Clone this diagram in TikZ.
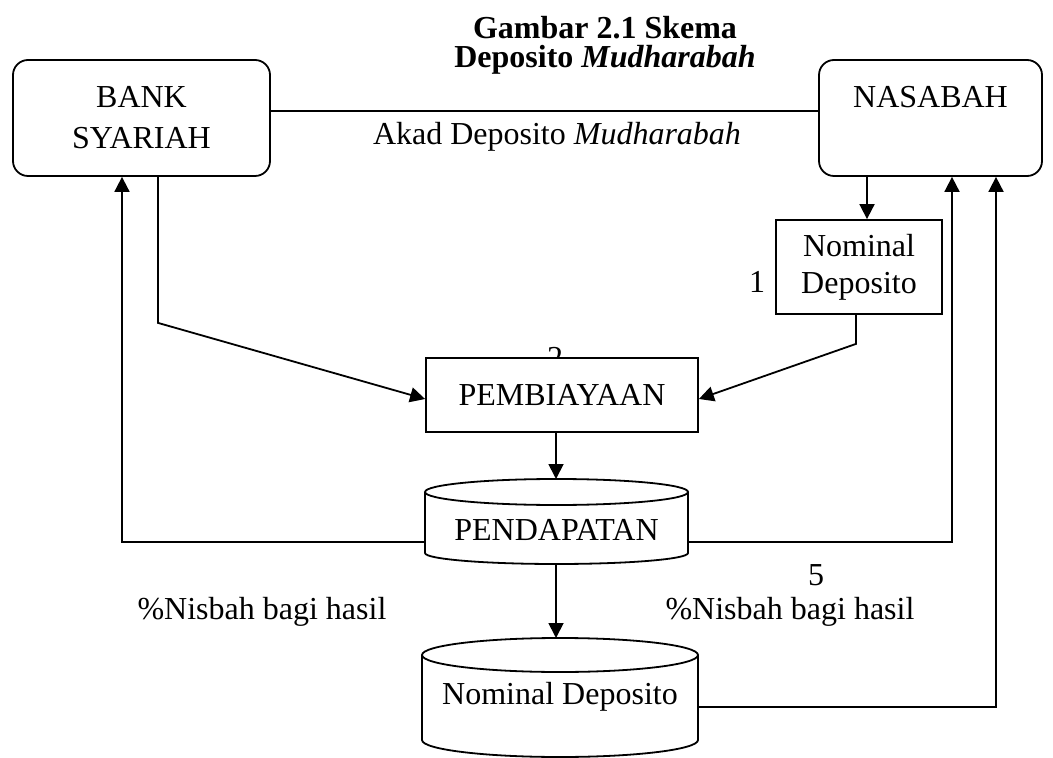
\documentclass[tikz,border=0pt]{standalone}
\usepackage{fontspec}
\setmainfont{Liberation Serif}
\usetikzlibrary{arrows.meta}

\tikzset{
  teks/.style={font=\fontsize{16}{20.5}\selectfont, align=center},
  aktor/.style={teks, draw, line width=0.9pt, rounded corners=7.5pt, minimum height=58pt, inner sep=0pt},
  kotak/.style={teks, draw, line width=0.9pt, fill=white, inner sep=0pt},
  panah/.style={line width=0.9pt, -{Triangle[length=7.5pt,width=7.5pt]}},
  garis/.style={line width=0.9pt}
}

\begin{document}
\begin{tikzpicture}[x=0.5pt,y=-0.5pt]
    \useasboundingbox (0,0) rectangle (1053,758);

    % Judul
    \node[teks, font=\bfseries\fontsize{16}{14.5}\selectfont] (judul) at (605,45) {Gambar 2.1 Skema\\Deposito \textit{Mudharabah}};

    % Pihak
    \node[aktor, minimum width=128.5pt] (bank) at (141.5,118) {BANK\\SYARIAH};
    \node[aktor, minimum width=111.5pt] (nasabah) at (930.5,118) {NASABAH\\\phantom{SYARIAH}};

    % Akad
    \draw[garis] ([yshift=3.5pt]bank.east) -- ([yshift=3.5pt]nasabah.west);
    \node[teks] (akad) at (557,137) {Akad Deposito \textit{Mudharabah}};

    % Setoran nasabah
    \node[kotak, font=\fontsize{16}{18.5}\selectfont, minimum width=83pt, minimum height=47pt] (setor) at (859,267) {Nominal\\Deposito};
    \node[teks] (satu) at (757,282) {1};
    \draw[panah] ([xshift=-31.75pt]nasabah.south) -- ([xshift=4pt]setor.north);

    % Pembiayaan
    \node[teks] (dua) at (555,358) {2};
    \node[kotak, minimum width=136pt, minimum height=37pt] (biaya) at (562,395) {PEMBIAYAAN};
    \draw[panah] ([xshift=8.25pt]bank.south) -- ++(0,146) -- ([yshift=-2pt]biaya.west);
    \draw[panah] ([xshift=-1.5pt]setor.south) -- ++(0,29) -- ([yshift=-2pt]biaya.east);

    % Pendapatan
    \draw[garis] (425,492) -- (425,553) arc[start angle=180, end angle=360, x radius=65.75pt, y radius=5.5pt] -- (688,492);
    \draw[garis] (556.5,492) ellipse [x radius=65.75pt, y radius=6.5pt];
    \node[teks] (pend) at (556.5,530) {PENDAPATAN};
    \coordinate (pendatas) at (556,479);
    \coordinate (pendbawah) at (556,564);
    \coordinate (pendkiri) at (425,542);
    \coordinate (pendkanan) at (688,542);
    \draw[panah] ([xshift=-3pt]biaya.south) -- (pendatas);

    % Nominal deposito
    \draw[garis] (422,655) -- (422,740) arc[start angle=180, end angle=360, x radius=69pt, y radius=8.5pt] -- (698,655);
    \draw[garis] (560,655) ellipse [x radius=69pt, y radius=8.5pt];
    \node[teks] (depo) at (560,697) {Nominal Deposito};
    \coordinate (depoatas) at (556,638);
    \coordinate (depokanan) at (698,707);
    \draw[panah] (pendbawah) -- (depoatas);

    % Bagi hasil
    \draw[panah] (pendkiri) -| ([xshift=-9.75pt]bank.south);
    \draw[panah] (pendkanan) -| ([xshift=10.75pt]nasabah.south);
    \draw[panah] (depokanan) -| ([xshift=32.75pt]nasabah.south);

    % Labels
    \node[teks] (nisbahbank) at (262,612) {\%Nisbah bagi hasil};
    \node[teks] (nisbahnasabah) at (790,612) {\%Nisbah bagi hasil};
    \node[teks] (lima) at (816,575) {5};
\end{tikzpicture}
\end{document}
